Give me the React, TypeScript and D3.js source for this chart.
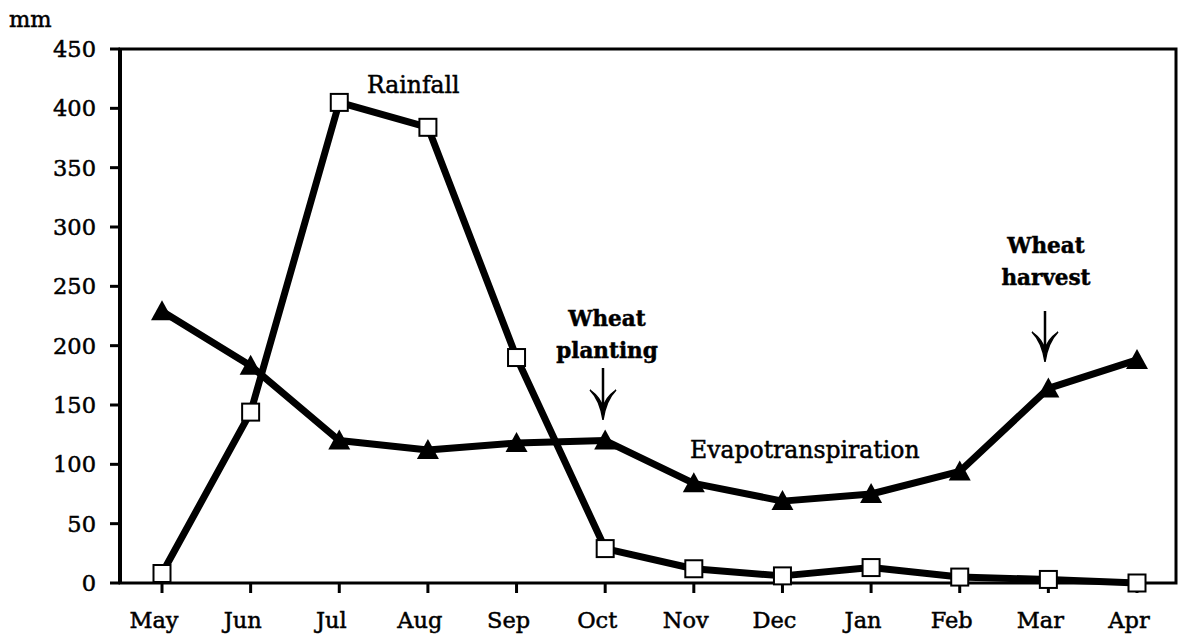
import React from "react";
import * as d3 from "d3";

const months = ["May", "Jun", "Jul", "Aug", "Sep", "Oct", "Nov", "Dec", "Jan", "Feb", "Mar", "Apr"];
const rainfall = [8, 144, 405, 384, 190, 29, 12, 6, 13, 5, 3, 0];
const evapotranspiration = [229, 183, 120, 112, 118, 120, 84, 69, 75, 94, 164, 188];
const yTicks = [0, 50, 100, 150, 200, 250, 300, 350, 400, 450];

const W = 1184, H = 636;
const left = 120, right = 1176, top = 49, bottom = 583;
const FONT = "'DejaVu Serif', serif";

export default function App() {
  const x = d3.scalePoint<string>().domain(months).range([162, 1137]);
  const y = d3.scaleLinear().domain([0, 450]).range([bottom, top]);
  const line = d3.line<number>().x((_, i) => x(months[i])!).y((d) => y(d));

  const tri = (cx: number, cy: number) => {
    const s = 10;
    return `M${cx},${cy - s - 1}L${cx + s + 1},${cy + s - 1}L${cx - s - 1},${cy + s - 1}Z`;
  };

  const arrow = (ax: number, y1: number, y2: number) => (
    <g stroke="#000" strokeWidth={2.5}>
      <line x1={ax} y1={y1} x2={ax} y2={y2 - 10} />
      <path
        d={`M${ax - 13},${y2 - 30} Q${ax - 3},${y2 - 20} ${ax},${y2} Q${ax + 3},${y2 - 20} ${ax + 13},${y2 - 30} Q${ax + 2},${y2 - 22} ${ax},${y2 - 12} Q${ax - 2},${y2 - 22} ${ax - 13},${y2 - 30}Z`}
        fill="#000"
        strokeWidth={1.5}
      />
    </g>
  );

  return (
    <svg width={W} height={H} style={{ position: "absolute", left: 0, top: 0, background: "#fff" }}>
      <g fontFamily={FONT} fontSize={22.5} fill="#000" stroke="#000" strokeWidth={0.5}>
        <text x={9} y={27}>mm</text>
        {yTicks.map((t) => (
          <g key={t}>
            <line x1={110} x2={left} y1={y(t)} y2={y(t)} stroke="#000" strokeWidth={3} />
            <text x={96} y={y(t) + 8} textAnchor="end">{t}</text>
          </g>
        ))}
        {months.map((m) => (
          <g key={m}>
            <line x1={x(m)!} x2={x(m)!} y1={bottom} y2={bottom + 10} stroke="#000" strokeWidth={3} />
            <text x={x(m)! - 8} y={628} textAnchor="middle">{m}</text>
          </g>
        ))}
      </g>
      <rect x={left} y={top} width={right - left} height={bottom - top} fill="none" stroke="#000" strokeWidth={3} />
      <line x1={left} x2={left} y1={top} y2={bottom} stroke="#000" strokeWidth={4} />

      <path d={line(evapotranspiration)!} fill="none" stroke="#000" strokeWidth={7} strokeLinejoin="round" />
      {evapotranspiration.map((v, i) => (
        <path key={i} d={tri(x(months[i])!, y(v))} fill="#000" />
      ))}

      <path d={line(rainfall)!} fill="none" stroke="#000" strokeWidth={7} strokeLinejoin="round" />
      {rainfall.map((v, i) => (
        <rect key={i} x={x(months[i])! - 8.5} y={y(v) - 8.5} width={17} height={17} fill="#fff" stroke="#000" strokeWidth={2} />
      ))}

      <g fontFamily={FONT} fill="#000" stroke="#000" strokeWidth={0.5}>
        <text x={367} y={93} fontSize={23.5}>Rainfall</text>
        <text x={690} y={458} fontSize={23.5}>Evapotranspiration</text>
        <text x={607} y={326} fontSize={21.5} fontWeight="bold" textAnchor="middle">Wheat</text>
        <text x={607} y={358} fontSize={21.5} fontWeight="bold" textAnchor="middle">planting</text>
        <text x={1046} y={253} fontSize={21.5} fontWeight="bold" textAnchor="middle">Wheat</text>
        <text x={1046} y={285} fontSize={21.5} fontWeight="bold" textAnchor="middle">harvest</text>
      </g>
      {arrow(603, 368, 420)}
      {arrow(1045, 311, 362)}
    </svg>
  );
}
